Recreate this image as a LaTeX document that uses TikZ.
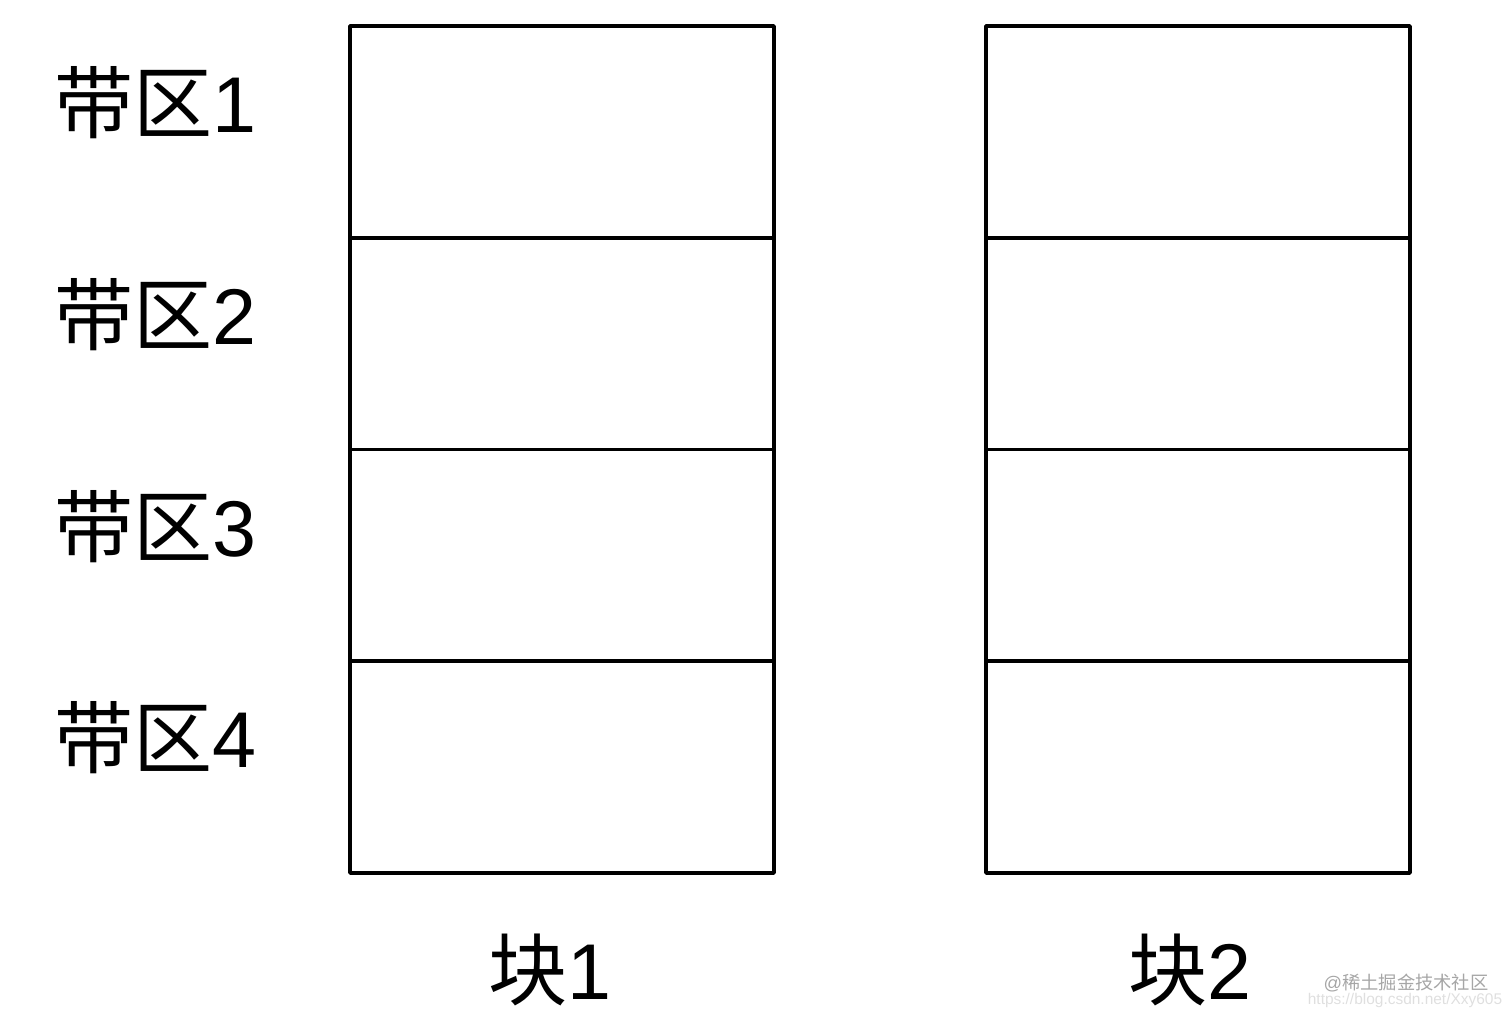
\documentclass[tikz,border=0pt]{standalone}
\usepackage{fontspec}
\setmainfont{Liberation Sans}
\newfontfamily\cjk{Noto Sans CJK SC}
\usetikzlibrary{positioning}

\tikzset{
	band/.style={draw, line width=1.05pt, line join=round, minimum width=4.24cm, minimum height=2.1175cm, inner sep=0pt, outer sep=0pt},
	zonelabel/.style={font=\fontsize{22.5}{26}\selectfont, inner sep=0pt},
	marktext/.style={font=\fontsize{5.2}{6}\selectfont, inner sep=0pt}
}

\begin{document}
\begin{tikzpicture}
	\useasboundingbox (0,0) rectangle (15.12,10.20);

	% first block
	\node[band] (k1b1) at (5.62,8.8813) {};
	\node[band, below=0pt of k1b1] (k1b2) {};
	\node[band, below=0pt of k1b2] (k1b3) {};
	\node[band, below=0pt of k1b3] (k1b4) {};

	% second block
	\node[band] (k2b1) at (11.98,8.8813) {};
	\node[band, below=0pt of k2b1] (k2b2) {};
	\node[band, below=0pt of k2b2] (k2b3) {};
	\node[band, below=0pt of k2b3] (k2b4) {};

	% zone labels
	\foreach \z in {1,2,3,4}
		\node[zonelabel, anchor=west] (zone\z) at ([xshift=-2.96cm, yshift=0.29cm]k1b\z.west) {{\cjk 带区}\z};

	% block labels
	\node[zonelabel] (blk1) at ([xshift=-0.12cm, yshift=-0.97cm]k1b4.south) {{\cjk 块}1};
	\node[zonelabel] (blk2) at ([xshift=-0.08cm, yshift=-0.97cm]k2b4.south) {{\cjk 块}2};

	% watermark
	\node[marktext, text=gray!70] (mark1) at (14.06,0.37) {@{\cjk 稀土掘金技术社区}};
	\node[marktext, font=\fontsize{4.4}{5}\selectfont, text=gray!25] (mark2) at (14.05,0.19) {https://blog.csdn.net/Xxy605};

\end{tikzpicture}
\end{document}
